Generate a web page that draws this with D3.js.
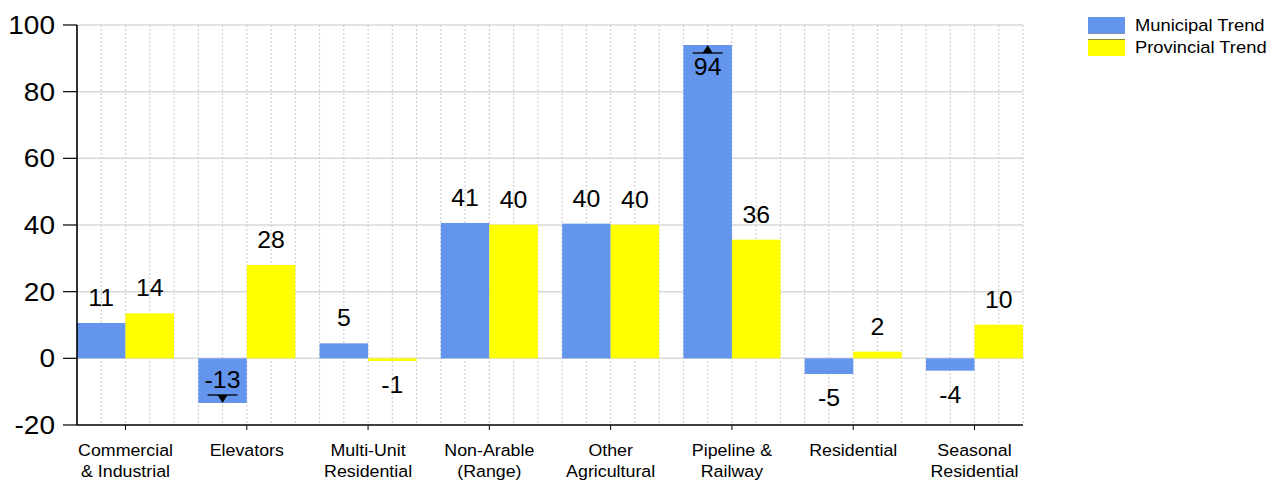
<!DOCTYPE html>
<html>
<head>
<meta charset="utf-8">
<script src="https://cdn.jsdelivr.net/npm/d3@7"></script>
<style>
  html, body { margin: 0; padding: 0; background: #fff; }
  svg { display: block; font-family: "Liberation Sans", Arial, sans-serif; }
</style>
</head>
<body>
<svg id="chart" width="1279" height="480"></svg>
<script>
// ---- data ----
const categories = [
  ["Commercial", "& Industrial"],
  ["Elevators"],
  ["Multi-Unit", "Residential"],
  ["Non-Arable", "(Range)"],
  ["Other", "Agricultural"],
  ["Pipeline &", "Railway"],
  ["Residential"],
  ["Seasonal", "Residential"]
];
const municipalTrend = [10.6, -13.4, 4.5, 40.6, 40.4, 94.0, -4.7, -3.7];
const provincialTrend = [13.5, 28.0, -0.8, 40.1, 40.1, 35.6, 2.0, 10.1];
const seriesNames = ["Municipal Trend", "Provincial Trend"];
const seriesColors = ["#6495ED", "#FFFF00"];
const yTicks = [-20, 0, 20, 40, 60, 80, 100];

// ---- layout ----
const svg = d3.select("#chart");
const pLeft = 77, pRight = 1023, pTop = 25, pBottom = 425;
const SX = 1.08;

const catKeys = categories.map((c, i) => i);
const x0 = d3.scaleBand().domain(catKeys).range([pLeft, pRight]).paddingInner(0.2).paddingOuter(0);
const x1 = d3.scaleBand().domain([0, 1]).range([0, x0.bandwidth()]);
const y = d3.scaleLinear().domain([-20, 100]).range([pBottom, pTop]);

function txt(g, x, yy, s, size, anchor, sx) {
  return g.append("text")
    .attr("transform", `translate(${x},${yy}) scale(${sx || SX},1)`)
    .attr("text-anchor", anchor || "middle")
    .attr("font-size", size)
    .attr("fill", "#000")
    .text(s);
}

// horizontal grid
svg.append("g").selectAll("line").data(yTicks.filter(t => t !== -20)).join("line")
  .attr("x1", pLeft).attr("x2", pRight)
  .attr("y1", d => y(d)).attr("y2", d => y(d))
  .attr("stroke", "#d9d9d9").attr("stroke-width", 1.5);

// vertical dotted grid (5 sub-divisions per category step)
const sub = x0.step() / 5;
const vLines = d3.range(1, Math.round((pRight - pLeft) / sub) + 1).map(k => pLeft + k * sub);
svg.append("g").selectAll("line").data(vLines).join("line")
  .attr("x1", d => d).attr("x2", d => d)
  .attr("y1", pTop).attr("y2", pBottom)
  .attr("stroke", "#cfcfcf").attr("stroke-width", 1.2).attr("stroke-dasharray", "2,2");

// bars
const series = [municipalTrend, provincialTrend];
series.forEach((vals, s) => {
  svg.append("g").selectAll("rect").data(vals).join("rect")
    .attr("x", (d, i) => x0(i) + x1(s))
    .attr("width", x1.bandwidth())
    .attr("y", d => y(Math.max(0, d)))
    .attr("height", d => Math.abs(y(d) - y(0)))
    .attr("fill", seriesColors[s]);
});

// extreme markers on municipal series
const maxI = d3.maxIndex(municipalTrend), minI = d3.minIndex(municipalTrend);
const mk = svg.append("g");
[[maxI, 1], [minI, -1]].forEach(([i, dir]) => {
  const cx = x0(i) + x1(0) + x1.bandwidth() / 2;
  const v = municipalTrend[i];
  const yEnd = y(v);
  const lineY = yEnd + dir * 8;
  mk.append("line").attr("x1", cx - 15).attr("x2", cx + 15)
    .attr("y1", lineY).attr("y2", lineY).attr("stroke", "#000").attr("stroke-width", 1.3);
  mk.append("path")
    .attr("d", `M${cx - 5},${lineY} L${cx + 5},${lineY} L${cx},${yEnd} Z`)
    .attr("fill", "#000");
});

// value labels
const lbl = svg.append("g");
series.forEach((vals, s) => {
  vals.forEach((v, i) => {
    const cx = x0(i) + x1(s) + x1.bandwidth() / 2;
    let by;
    if (s === 0 && i === maxI) by = y(v) + 30;
    else if (s === 0 && i === minI) by = y(v) - 15;
    else if (v >= 0) by = y(v) - 17;
    else by = y(v) + 32;
    txt(lbl, cx, by, String(Math.round(v)), 23);
  });
});

// y axis
svg.append("line").attr("x1", pLeft).attr("x2", pLeft).attr("y1", pTop).attr("y2", pBottom)
  .attr("stroke", "#000").attr("stroke-width", 1.6);
const ya = svg.append("g");
yTicks.forEach(t => {
  ya.append("line").attr("x1", pLeft - 14).attr("x2", pLeft).attr("y1", y(t)).attr("y2", y(t))
    .attr("stroke", "#000").attr("stroke-width", 1.2);
  txt(ya, 55, y(t) + 9, String(t), 25, "end", 1.12);
});

// x axis
svg.append("line").attr("x1", pLeft).attr("x2", pRight).attr("y1", pBottom).attr("y2", pBottom)
  .attr("stroke", "#000").attr("stroke-width", 1.6);
const xa = svg.append("g");
categories.forEach((lines, i) => {
  const cx = x0(i) + x0.bandwidth() / 2;
  xa.append("line").attr("x1", cx).attr("x2", cx).attr("y1", pBottom).attr("y2", pBottom + 5)
    .attr("stroke", "#000").attr("stroke-width", 1);
  lines.forEach((ln, k) => txt(xa, cx, 456 + k * 21, ln, 16.5));
});

// legend
const lg = svg.append("g");
seriesNames.forEach((name, s) => {
  const ly = 17 + s * 22;
  lg.append("rect").attr("x", 1088).attr("y", ly).attr("width", 37).attr("height", 17)
    .attr("fill", seriesColors[s]);
  txt(lg, 1135, ly + 13.5, name, 17, "start", 1.08);
});
lg.append("line").attr("x1", 1088).attr("x2", 1125).attr("y1", 33.5).attr("y2", 33.5)
  .attr("stroke", "#7f8fa8").attr("stroke-width", 1);
lg.append("line").attr("x1", 1088).attr("x2", 1125).attr("y1", 39.5).attr("y2", 39.5)
  .attr("stroke", "#8a8a30").attr("stroke-width", 1);
</script>
</body>
</html>
